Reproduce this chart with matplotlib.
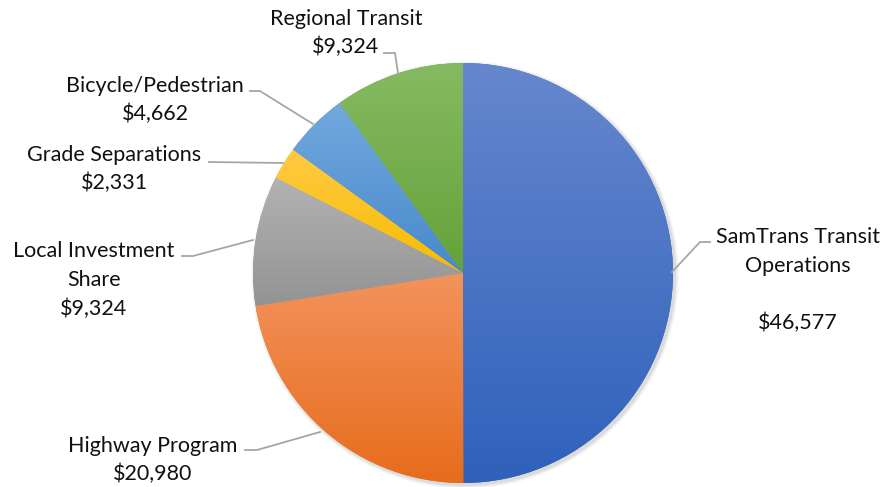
import numpy as np
import matplotlib.pyplot as plt
from matplotlib.colors import LinearSegmentedColormap

# data
names = ["SamTrans Transit\nOperations\n", "Highway Program", "Local Investment\nShare",
         "Grade Separations", "Bicycle/Pedestrian", "Regional Transit"]
values = [46577, 20980, 9324, 2331, 4662, 9324]
# gradient colours, top -> bottom
top_cols = ["#6687CE", "#F3935D", "#B3B3B3", "#FFCA45", "#72A9DE", "#86BA63"]
bot_cols = ["#2F61BB", "#E76C1C", "#939393", "#F7BC00", "#4889CB", "#65A238"]

H = 487
cx, cy, R = 463, H - 273, 210

fig = plt.figure(figsize=(8.86, 4.87), dpi=100)
ax = fig.add_axes([0, 0, 1, 1])

# soft shadow
for i, a in enumerate([0.05, 0.04, 0.03, 0.02]):
    ax.add_patch(plt.Circle((cx + 2, cy - 2), R + 1 + i, color="k", alpha=a, lw=0, zorder=0))

wedges, _ = ax.pie(values, startangle=90, counterclock=False, center=(cx, cy), radius=R,
                   wedgeprops=dict(linewidth=0))

grad = np.linspace(0, 1, 256).reshape(-1, 1)
for w, c1, c2 in zip(wedges, top_cols, bot_cols):
    w.set_facecolor(c2)
    verts = w.get_path().vertices
    x0, x1 = verts[:, 0].min(), verts[:, 0].max()
    y0, y1 = verts[:, 1].min(), verts[:, 1].max()
    cmap = LinearSegmentedColormap.from_list("g", [c1, c2])
    im = ax.imshow(grad, cmap=cmap, extent=(x0, x1, y0, y1), origin="upper",
                   aspect="auto", zorder=2)
    im.set_clip_path(w)

# labels: (text centre x, y) and leader points, image coords
label_pos = [(798, 280), (153, 460), (94, 280), (114, 169), (155, 100), (346, 33)]
leaders = [[(710, 242), (700, 242), (672, 272)],
           [(245, 450), (257, 450), (320, 432)],
           [(182, 256), (193, 256), (253, 240)],
           [(209, 162), (283, 163)],
           [(250, 91), (260, 91), (313, 124)],
           [(384, 53), (395, 53), (398, 73)]]

for name, v, (tx, ty), pts in zip(names, values, label_pos, leaders):
    txt = name + "\n$" + f"{v:,}"
    ax.text(tx, H - ty, txt, ha="center", va="center", fontsize=15.5,
            family="Lato", linespacing=1.52, color="#111111")
    xs = [p[0] for p in pts]
    ys = [H - p[1] for p in pts]
    ax.plot(xs, ys, color="#A6A6A6", lw=1.3, zorder=3)

ax.set_xlim(0, 886)
ax.set_ylim(0, H)
ax.set_aspect("equal")
ax.axis("off")
fig.savefig("out.png", dpi=100)
